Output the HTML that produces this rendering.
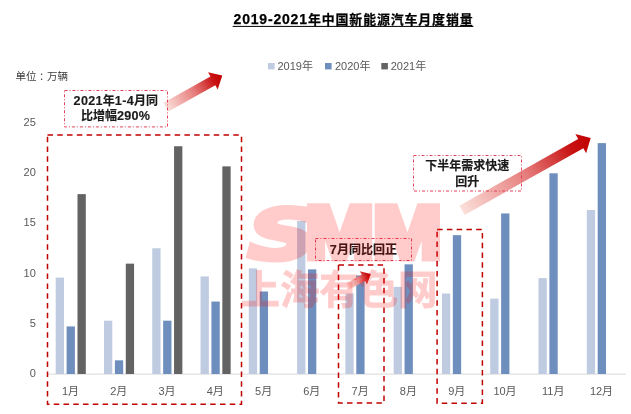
<!DOCTYPE html>
<html lang="zh-CN"><head><meta charset="utf-8">
<title>2019-2021年中国新能源汽车月度销量</title>
<style>
html,body{margin:0;padding:0;background:#fff;}
body{width:631px;height:414px;overflow:hidden;}
svg{display:block;}
svg text{font-family:"Liberation Sans","Noto Sans CJK SC",sans-serif;}
.ax{font-size:11px;fill:#595959;}
.lg{font-size:11px;fill:#595959;}
.an{font-size:12px;font-weight:bold;fill:#1a1a1a;text-anchor:middle;stroke:#1a1a1a;stroke-width:0.15px;}
.an .d{font-size:12.6px;letter-spacing:0.3px;}
.bx{fill:none;stroke:#c00000;stroke-width:1.5;stroke-dasharray:5.5 4.28;}
.lb{fill:none;stroke:#e0405a;stroke-width:1;stroke-dasharray:3 2 1 2;}
</style></head><body>
<svg width="631" height="414" viewBox="0 0 631 414">
<defs>
<linearGradient id="ga" x1="0" y1="0" x2="1" y2="0">
<stop offset="0" stop-color="#fbe0da"/><stop offset="0.5" stop-color="#e67c7c"/><stop offset="0.85" stop-color="#c81212"/><stop offset="1" stop-color="#c00000"/>
</linearGradient>
</defs>
<rect width="631" height="414" fill="#fff"/>
<text x="233.6" y="24.4" font-size="14" font-weight="bold" fill="#000" stroke="#000" stroke-width="0.25"><tspan textLength="73.4" lengthAdjust="spacing">2019-2021</tspan><tspan x="308" font-size="12.9" letter-spacing="0.9">年中国新能源汽车月度销量</tspan></text>
<rect x="232.6" y="25.9" width="240.8" height="1" fill="#000"/>
<text x="15.5" y="80.3" font-size="10.5" fill="#404040">单位<tspan dx="2.6">：</tspan><tspan dx="-2.6">万辆</tspan></text>
<rect x="268.0" y="63" width="6.6" height="6.4" fill="#bfcbe0"/>
<text class="lg" x="277.5" y="69.6">2019年</text>
<rect x="325.0" y="63" width="6.6" height="6.4" fill="#6e8ebd"/>
<text class="lg" x="335.0" y="69.6">2020年</text>
<rect x="381.3" y="63" width="6.6" height="6.4" fill="#636363"/>
<text class="lg" x="390.7" y="69.6">2021年</text>
<text class="ax" x="35.8" y="377.3" text-anchor="end">0</text>
<text class="ax" x="35.8" y="327.0" text-anchor="end">5</text>
<text class="ax" x="35.8" y="276.7" text-anchor="end">10</text>
<text class="ax" x="35.8" y="226.4" text-anchor="end">15</text>
<text class="ax" x="35.8" y="176.1" text-anchor="end">20</text>
<text class="ax" x="35.8" y="125.8" text-anchor="end">25</text>
<rect x="47" y="373.6" width="579" height="1" fill="#d9d9d9"/>
<rect x="55.70" y="277.63" width="8.30" height="96.37" fill="#bfcbe0"/>
<rect x="66.60" y="326.42" width="8.30" height="47.58" fill="#6e8ebd"/>
<rect x="77.50" y="194.13" width="8.30" height="179.87" fill="#636363"/>
<text class="ax" x="70.5" y="394.5" text-anchor="middle">1月</text>
<rect x="103.98" y="320.68" width="8.30" height="53.32" fill="#bfcbe0"/>
<rect x="114.88" y="360.32" width="8.30" height="13.68" fill="#6e8ebd"/>
<rect x="125.78" y="263.64" width="8.30" height="110.36" fill="#636363"/>
<text class="ax" x="118.7" y="394.5" text-anchor="middle">2月</text>
<rect x="152.26" y="248.25" width="8.30" height="125.75" fill="#bfcbe0"/>
<rect x="163.16" y="320.68" width="8.30" height="53.32" fill="#6e8ebd"/>
<rect x="174.06" y="146.24" width="8.30" height="227.76" fill="#636363"/>
<text class="ax" x="167.0" y="394.5" text-anchor="middle">3月</text>
<rect x="200.54" y="276.42" width="8.30" height="97.58" fill="#bfcbe0"/>
<rect x="211.44" y="301.57" width="8.30" height="72.43" fill="#6e8ebd"/>
<rect x="222.34" y="166.36" width="8.30" height="207.64" fill="#636363"/>
<text class="ax" x="215.3" y="394.5" text-anchor="middle">4月</text>
<rect x="248.82" y="268.37" width="8.30" height="105.63" fill="#bfcbe0"/>
<rect x="259.72" y="291.51" width="8.30" height="82.49" fill="#6e8ebd"/>
<text class="ax" x="263.6" y="394.5" text-anchor="middle">5月</text>
<rect x="297.10" y="221.09" width="8.30" height="152.91" fill="#bfcbe0"/>
<rect x="308.00" y="269.38" width="8.30" height="104.62" fill="#6e8ebd"/>
<text class="ax" x="311.8" y="394.5" text-anchor="middle">6月</text>
<rect x="345.38" y="293.52" width="8.30" height="80.48" fill="#bfcbe0"/>
<rect x="356.28" y="275.41" width="8.30" height="98.59" fill="#6e8ebd"/>
<text class="ax" x="360.1" y="394.5" text-anchor="middle">7月</text>
<rect x="393.66" y="286.88" width="8.30" height="87.12" fill="#bfcbe0"/>
<rect x="404.56" y="264.35" width="8.30" height="109.65" fill="#6e8ebd"/>
<text class="ax" x="408.4" y="394.5" text-anchor="middle">8月</text>
<rect x="441.94" y="293.52" width="8.30" height="80.48" fill="#bfcbe0"/>
<rect x="452.84" y="235.17" width="8.30" height="138.83" fill="#6e8ebd"/>
<text class="ax" x="456.7" y="394.5" text-anchor="middle">9月</text>
<rect x="490.22" y="298.65" width="8.30" height="75.35" fill="#bfcbe0"/>
<rect x="501.12" y="213.44" width="8.30" height="160.56" fill="#6e8ebd"/>
<text class="ax" x="505.0" y="394.5" text-anchor="middle">10月</text>
<rect x="538.50" y="278.13" width="8.30" height="95.87" fill="#bfcbe0"/>
<rect x="549.40" y="173.30" width="8.30" height="200.70" fill="#6e8ebd"/>
<text class="ax" x="553.2" y="394.5" text-anchor="middle">11月</text>
<rect x="586.78" y="210.02" width="8.30" height="163.98" fill="#bfcbe0"/>
<rect x="597.68" y="143.12" width="8.30" height="230.88" fill="#6e8ebd"/>
<text class="ax" x="601.5" y="394.5" text-anchor="middle">12月</text>
<rect class="bx" x="47.5" y="135.1" width="194" height="269.2"/>
<rect class="bx" x="338.5" y="264.9" width="45.5" height="138.2"/>
<rect class="bx" x="437.1" y="229.4" width="45.3" height="173.8"/>
<polygon transform="translate(166.00 107.20) rotate(-29.30)" points="0.00,-5.00 53.76,-5.00 53.76,-9.90 64.56,0.00 53.76,9.90 53.76,5.00 0.00,5.00" fill="url(#ga)"/>
<polygon transform="translate(462.00 210.30) rotate(-29.33)" points="0.00,-5.30 136.22,-5.30 136.22,-11.00 147.62,0.00 136.22,11.00 136.22,5.30 0.00,5.30" fill="url(#ga)"/>
<polygon transform="translate(348.00 286.20) rotate(-28.35)" points="0.00,-3.50 17.51,-3.50 17.51,-7.60 25.91,0.00 17.51,7.60 17.51,3.50 0.00,3.50" fill="url(#ga)"/>
<rect class="lb" x="64.5" y="90.5" width="103" height="36.4"/>
<text class="an" x="115.8" y="105.4"><tspan class="d">2021</tspan>年<tspan class="d">1-4</tspan>月同</text>
<text class="an" x="115.6" y="120">比增幅<tspan class="d">290%</tspan></text>
<rect class="lb" x="413.5" y="155.5" width="108" height="35.5"/>
<text class="an" x="467.3" y="170.4">下半年需求快速</text>
<text class="an" x="467.3" y="185.7">回升</text>
<rect class="lb" x="315.5" y="238.5" width="96" height="22"/>
<text class="an" x="363.4" y="254.4"><tspan class="d">7</tspan>月同比回正</text>
<g font-weight="bold" fill="#ff0000" opacity="0.2">
<text transform="translate(0 258.4) scale(1.1 1)" stroke="#ff0000" stroke-linejoin="miter" stroke-miterlimit="2" font-size="74.9" stroke-width="7"><tspan x="225.5" y="0.2" font-size="70" stroke-width="5" font-style="italic" textLength="62.5" lengthAdjust="spacingAndGlyphs" style="font-family:'DejaVu Sans','Liberation Sans',sans-serif">S</tspan><tspan x="277.45" y="0">M</tspan><tspan x="339.2" y="0">M</tspan></text>
<text x="339" y="303.5" text-anchor="middle" font-size="39.5" stroke="#ff0000" stroke-width="0.8" textLength="197" lengthAdjust="spacingAndGlyphs">上海有色网</text>
</g>
</svg>
</body></html>
